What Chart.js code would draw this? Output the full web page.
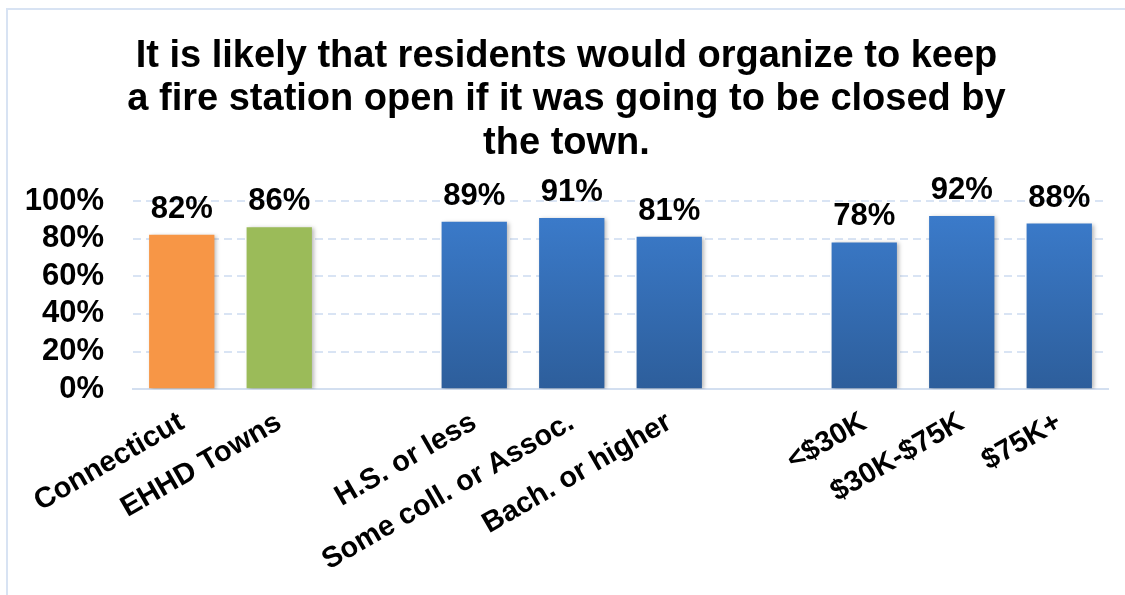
<!DOCTYPE html>
<html>
<head>
<meta charset="utf-8">
<script src="https://cdn.jsdelivr.net/npm/chart.js@4.4.1/dist/chart.umd.min.js"></script>
<style>
  html, body { margin: 0; padding: 0; background: #fff; }
  #wrap { width: 1125px; height: 595px; }
</style>
</head>
<body>
<div id="wrap"><canvas id="fire"></canvas></div>
<script>
const categories = ['Connecticut', 'EHHD Towns', '', 'H.S. or less', 'Some coll. or Assoc.', 'Bach. or higher', '', '<$30K', '$30K-$75K', '$75K+'];
const percentLikely = [82, 86, null, 89, 91, 81, null, 78, 92, 88];
const yTicks = [0, 20, 40, 60, 80, 100];
const titleLines = ['It is likely that residents would organize to keep', 'a fire station open if it was going to be closed by', 'the town.'];

const FONT = "'Liberation Sans', Arial, sans-serif";

// blue gradient for the demographic bars
function barColor(c) {
    const i = c.dataIndex;
    if (i === 0) return '#F79646';
    if (i === 1) return '#9BBB59';
    const area = c.chart.chartArea;
    if (!area) return '#3A78C8';
    const g = c.chart.ctx.createLinearGradient(0, area.top, 0, area.bottom);
    g.addColorStop(0, '#3C7DCE');
    g.addColorStop(1, '#2D5E9B');
    return g;
}

const frame = {
    id: 'frame',
    beforeDraw(chart) {
        const c = chart.ctx;
        c.save();
        c.strokeStyle = '#D8E3F3';
        c.lineWidth = 2;
        c.beginPath();
        c.moveTo(7, chart.height);
        c.lineTo(7, 9);
        c.lineTo(chart.width, 9);
        c.stroke();
        c.restore();
    }
};

const barShadow = {
    id: 'barShadow',
    beforeDatasetsDraw(chart) {
        const c = chart.ctx;
        c.save();
        c.shadowColor = 'rgba(0,0,0,0.28)';
        c.shadowBlur = 4;
        c.shadowOffsetX = 2;
        c.shadowOffsetY = 1;
    },
    afterDatasetsDraw(chart) {
        chart.ctx.restore();
    }
};

const valueLabels = {
    id: 'valueLabels',
    afterDatasetsDraw(chart) {
        const c = chart.ctx;
        const meta = chart.getDatasetMeta(0);
        c.save();
        c.font = 'bold 31px ' + FONT;
        c.fillStyle = '#000';
        c.textAlign = 'center';
        c.textBaseline = 'alphabetic';
        meta.data.forEach((bar, i) => {
            const v = percentLikely[i];
            if (v == null) return;
            c.fillText(v + '%', bar.x, bar.y - 17);
        });
        c.restore();
    }
};

new Chart(document.getElementById('fire'), {
    type: 'bar',
    data: {
        labels: categories,
        datasets: [{
            data: percentLikely,
            backgroundColor: barColor,
            categoryPercentage: 1,
            barPercentage: 0.67
        }]
    },
    options: {
        responsive: true,
        maintainAspectRatio: false,
        animation: false,
        layout: { padding: { left: 25, right: 17, top: 0, bottom: 1 } },
        plugins: {
            legend: { display: false },
            tooltip: { enabled: false },
            title: {
                display: true,
                text: titleLines,
                color: '#000',
                font: { family: FONT, size: 38, weight: 'bold', lineHeight: 1.14 },
                padding: { top: 35, bottom: 36 }
            }
        },
        scales: {
            x: {
                grid: { display: false, drawTicks: false },
                border: { display: true, color: '#D3DFF0', width: 2 },
                ticks: {
                    color: '#000',
                    font: { family: FONT, size: 29, weight: 'bold' },
                    minRotation: 30,
                    maxRotation: 30,
                    autoSkip: false,
                    padding: 16
                },
                // let the long rotated labels hang past the plot's left edge
                afterFit(scale) {
                    scale.paddingLeft = 0;
                    scale.paddingRight = 0;
                }
            },
            y: {
                min: 0,
                max: 100,
                afterBuildTicks(axis) { axis.ticks = yTicks.map(v => ({ value: v })); },
                afterFit(scale) { scale.width = 108; },
                grid: { color: '#D9E4F4', lineWidth: 2, drawTicks: false },
                border: { display: false, dash: [8, 5] },
                ticks: {
                    color: '#000',
                    font: { family: FONT, size: 31, weight: 'bold' },
                    padding: 29,
                    autoSkip: false,
                    callback: v => v + '%'
                }
            }
        }
    },
    plugins: [frame, barShadow, valueLabels]
});
</script>
</body>
</html>
